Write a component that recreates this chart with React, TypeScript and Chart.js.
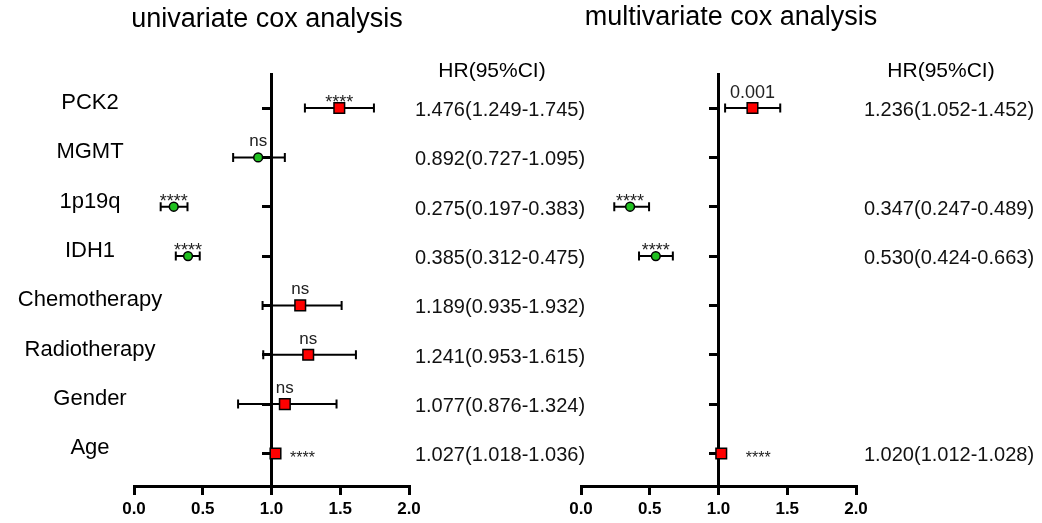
import React, { useEffect, useRef } from 'react';
import { Chart, registerables } from 'chart.js';

Chart.register(...registerables);

// ---------- data ----------
const categories = ['PCK2', 'MGMT', '1p19q', 'IDH1', 'Chemotherapy', 'Radiotherapy', 'Gender', 'Age'];
const xTicks = [0, 0.5, 1, 1.5, 2];

const uniHR = [1.493, 0.903, 0.289, 0.393, 1.209, 1.267, 1.097, 1.029];
const uniLow = [1.243, 0.721, 0.194, 0.304, 0.935, 0.94, 0.757, 1.018];
const uniHigh = [1.745, 1.097, 0.389, 0.478, 1.51, 1.614, 1.473, 1.036];
const uniText = [
  '1.476(1.249-1.745)',
  '0.892(0.727-1.095)',
  '0.275(0.197-0.383)',
  '0.385(0.312-0.475)',
  '1.189(0.935-1.932)',
  '1.241(0.953-1.615)',
  '1.077(0.876-1.324)',
  '1.027(1.018-1.036)',
];
const uniSig = ['****', 'ns', '****', '****', 'ns', 'ns', 'ns', '****'];

const multiHR = [1.247, null, 0.357, 0.544, null, null, null, 1.02];
const multiLow = [1.048, null, 0.242, 0.422, null, null, null, 1.012];
const multiHigh = [1.449, null, 0.495, 0.668, null, null, null, 1.028];
const multiText = [
  '1.236(1.052-1.452)',
  '',
  '0.347(0.247-0.489)',
  '0.530(0.424-0.663)',
  '',
  '',
  '',
  '1.020(1.012-1.028)',
];
const multiSig = ['0.001', '', '****', '****', '', '', '', '****'];

// ---------- styling / layout ----------
const FONT = '"Liberation Sans", Arial, Helvetica, sans-serif';
const RED = '#ff0000';
const GREEN = '#20c020';
const W = 1042;
const H = 523;

const rowOf = (i: number) => categories.length - i;

type Panel = {
  title: string;
  titleX: number;
  titleY: number;
  padLeft: number;
  padRight: number;
  headerX: number;
  valueX: number;
  showLabels: boolean;
  rightDx: number;
  hr: (number | null)[];
  low: (number | null)[];
  high: (number | null)[];
  text: string[];
  sig: string[];
};

const panels: Panel[] = [
  {
    title: 'univariate cox analysis',
    titleX: 267,
    titleY: 27,
    padLeft: 134,
    padRight: W - 409,
    headerX: 492,
    valueX: 500,
    showLabels: true,
    rightDx: 27,
    hr: uniHR,
    low: uniLow,
    high: uniHigh,
    text: uniText,
    sig: uniSig,
  },
  {
    title: 'multivariate cox analysis',
    titleX: 731,
    titleY: 25,
    padLeft: 581,
    padRight: W - 856,
    headerX: 941,
    valueX: 949,
    showLabels: false,
    rightDx: 37,
    hr: multiHR,
    low: multiLow,
    high: multiHigh,
    text: multiText,
    sig: multiSig,
  },
];

function makePlugin(p: Panel) {
  return {
    id: 'forest',
    beforeDatasetsDraw(chart: any) {
      const { ctx } = chart;
      const x = chart.scales.x;
      const y = chart.scales.y;
      ctx.save();
      ctx.strokeStyle = '#000';
      ctx.lineWidth = 2;
      p.low.forEach((lo, i) => {
        const hi = p.high[i];
        if (lo == null || hi == null) return;
        const py = y.getPixelForValue(rowOf(i));
        const x1 = x.getPixelForValue(lo);
        const x2 = x.getPixelForValue(hi);
        ctx.beginPath();
        ctx.moveTo(x1, py);
        ctx.lineTo(x2, py);
        ctx.moveTo(x1, py - 4.5);
        ctx.lineTo(x1, py + 4.5);
        ctx.moveTo(x2, py - 4.5);
        ctx.lineTo(x2, py + 4.5);
        ctx.stroke();
      });
      ctx.restore();
    },
    afterDraw(chart: any) {
      const { ctx } = chart;
      const x = chart.scales.x;
      const y = chart.scales.y;
      ctx.save();
      ctx.fillStyle = '#000';
      ctx.textBaseline = 'alphabetic';
      ctx.textAlign = 'center';

      ctx.font = `27px ${FONT}`;
      ctx.fillText(p.title, p.titleX, p.titleY);

      ctx.font = `21px ${FONT}`;
      ctx.fillText('HR(95%CI)', p.headerX, 77);

      categories.forEach((c, i) => {
        const py = y.getPixelForValue(rowOf(i));
        if (p.showLabels) {
          ctx.font = `22px ${FONT}`;
          ctx.fillStyle = '#000';
          ctx.textAlign = 'center';
          ctx.fillText(c, 90, py + 1);
        }
        if (p.text[i]) {
          ctx.font = `20px ${FONT}`;
          ctx.fillStyle = '#111';
          ctx.textAlign = 'center';
          ctx.fillText(p.text[i], p.valueX, py + 8);
        }
        const s = p.sig[i];
        const hr = p.hr[i];
        const lo = p.low[i];
        const hi = p.high[i];
        if (s && hr != null && lo != null && hi != null) {
          const px = x.getPixelForValue(hr);
          ctx.fillStyle = '#222';
          ctx.textAlign = 'center';
          if (hi - lo < 0.05) {
            ctx.font = `16px ${FONT}`;
            ctx.fillText(s, px + p.rightDx, py + 10);
          } else if (s === '****') {
            ctx.font = `18px ${FONT}`;
            ctx.fillText(s, px, py);
          } else if (s === 'ns') {
            ctx.font = `17px ${FONT}`;
            ctx.fillText(s, px, py - 11);
          } else {
            ctx.font = `18px ${FONT}`;
            ctx.fillText(s, px, py - 10);
          }
        }
      });
      ctx.restore();
    },
  };
}

function ForestPanel({ p }: { p: Panel }) {
  const ref = useRef<HTMLCanvasElement | null>(null);
  useEffect(() => {
    if (!ref.current) return;
    const squares: { x: number; y: number }[] = [];
    const circles: { x: number; y: number }[] = [];
    p.hr.forEach((v, i) => {
      if (v == null) return;
      (v >= 1 ? squares : circles).push({ x: v, y: rowOf(i) });
    });
    const chart = new Chart(ref.current, {
      type: 'scatter',
      data: {
        datasets: [
          {
            data: squares,
            pointStyle: 'rect',
            pointRadius: 7.5,
            pointHoverRadius: 7.5,
            backgroundColor: RED,
            borderColor: '#000',
            borderWidth: 1.5,
          },
          {
            data: circles,
            pointStyle: 'circle',
            pointRadius: 4.4,
            pointHoverRadius: 4.4,
            backgroundColor: GREEN,
            borderColor: '#000',
            borderWidth: 1.5,
          },
        ],
      },
      options: {
        animation: false,
        responsive: false,
        maintainAspectRatio: false,
        events: [],
        layout: { padding: { left: p.padLeft, right: p.padRight, top: 74, bottom: 0 } },
        plugins: { legend: { display: false }, tooltip: { enabled: false } },
        scales: {
          x: {
            type: 'linear',
            min: 0,
            max: 2,
            afterBuildTicks: (s: any) => {
              s.ticks = xTicks.map((v) => ({ value: v }));
            },
            afterFit: (s: any) => {
              s.height = 37;
            },
            border: { display: true, color: '#000', width: 3 },
            grid: { drawOnChartArea: false, drawTicks: true, tickLength: 9, lineWidth: 3, color: '#000' },
            ticks: {
              color: '#000',
              padding: 4,
              autoSkip: false,
              maxRotation: 0,
              font: { family: FONT, size: 17, weight: 'bold' },
              callback: (v: any) => Number(v).toFixed(1),
            },
          },
          y: {
            type: 'linear',
            min: 0.34,
            max: 8.69,
            position: { x: 1 } as any,
            afterBuildTicks: (s: any) => {
              s.ticks = categories.map((_, i) => ({ value: rowOf(i) }));
            },
            border: { display: true, color: '#000', width: 3 },
            grid: { drawOnChartArea: false, drawTicks: true, tickLength: 8, lineWidth: 3, color: '#000' },
            ticks: { display: false },
          },
        },
      } as any,
      plugins: [makePlugin(p)],
    });
    return () => chart.destroy();
  }, [p]);
  return (
    <canvas
      ref={ref}
      width={W}
      height={H}
      style={{ position: 'absolute', left: 0, top: 0, width: W, height: H, display: 'block' }}
    />
  );
}

export default function App() {
  return (
    <div style={{ position: 'absolute', left: 0, top: 0, width: 1042, height: 523, background: '#fff' }}>
      {panels.map((p, i) => (
        <ForestPanel key={i} p={p} />
      ))}
    </div>
  );
}
